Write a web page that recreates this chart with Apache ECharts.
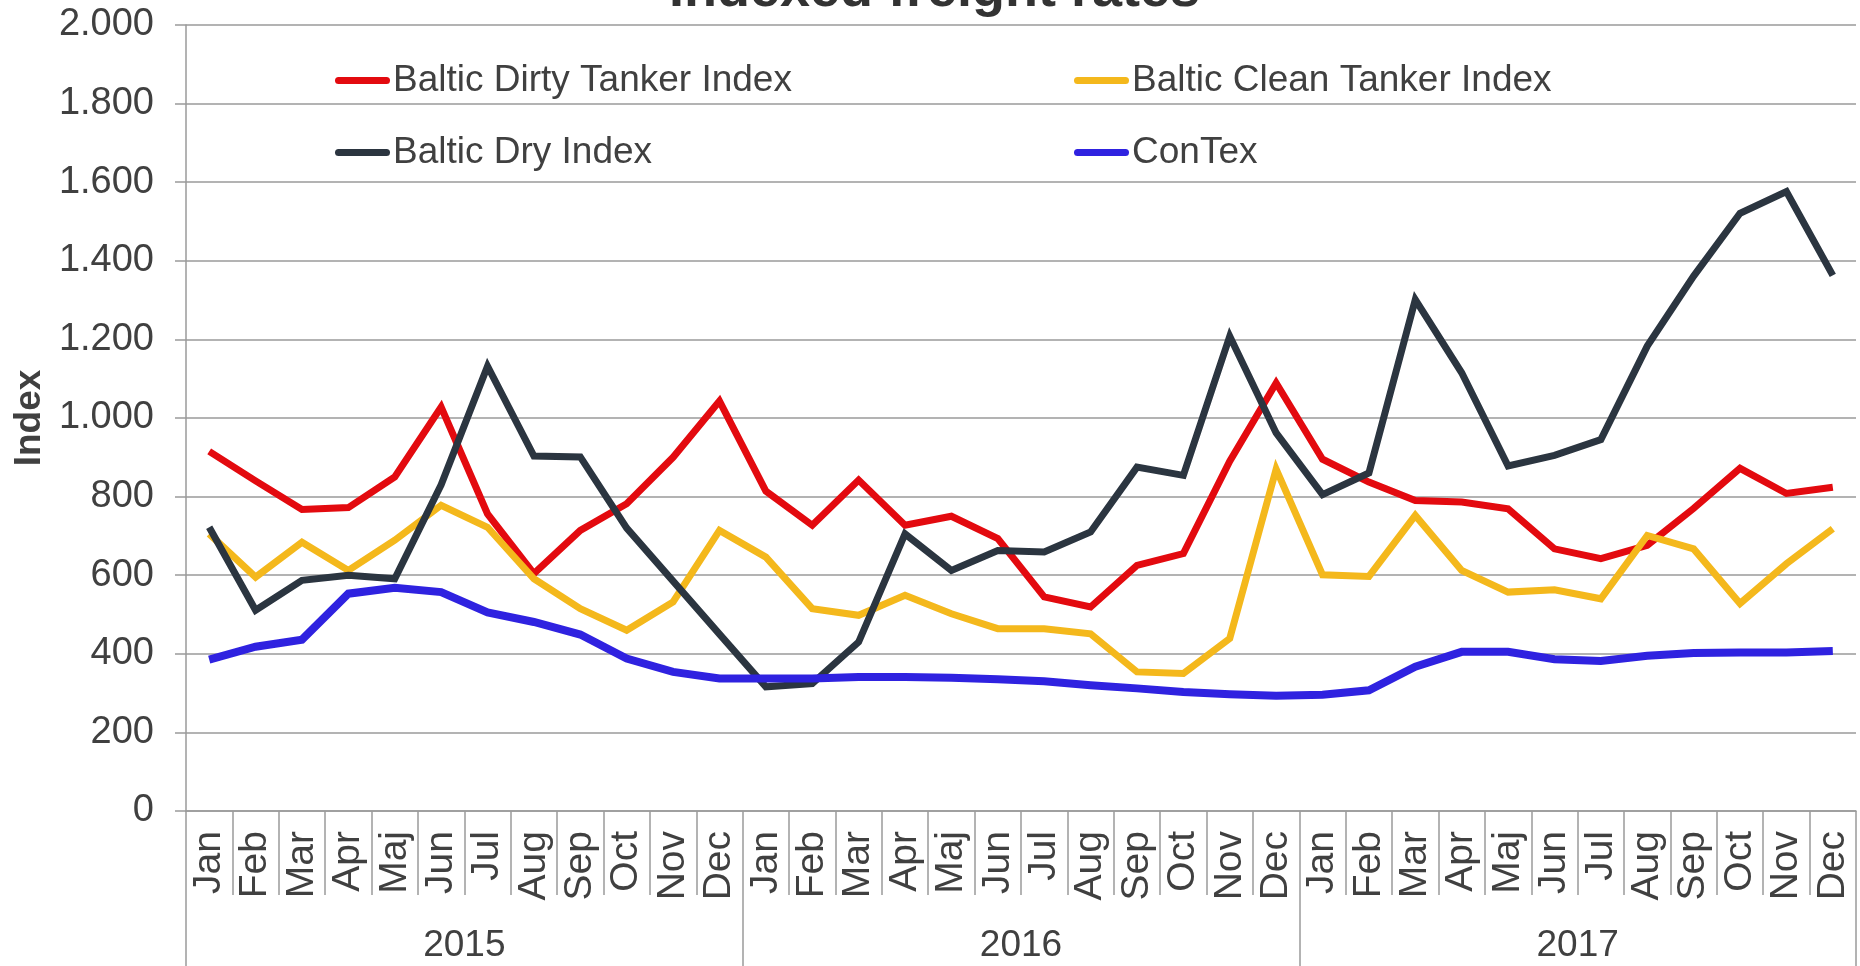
<!DOCTYPE html>
<html>
<head>
<meta charset="utf-8">
<script src="https://cdn.jsdelivr.net/npm/echarts@6/dist/echarts.min.js"></script>
<style>
  html, body { margin: 0; padding: 0; background: #fff; }
  #chart { width: 1860px; height: 966px; }
</style>
</head>
<body>
<div id="chart"></div>
<script>
// categories
const months = ['Jan', 'Feb', 'Mar', 'Apr', 'Maj', 'Jun', 'Jul', 'Aug', 'Sep', 'Oct', 'Nov', 'Dec']
const years = ['2015', '2016', '2017']
const monthLabels = years.flatMap(() => months)

// series values (indexed)
const bdti = [
  915, 840, 767, 772, 850, 1028, 756, 604, 714, 782, 900, 1043,
  814, 727, 842, 727, 750, 693, 545, 519, 625, 655, 890, 1089,
  895, 837, 790, 786, 769, 667, 642, 676, 770, 872, 808, 824
]
const bcti = [
  705, 595, 684, 612, 689, 778, 722, 591, 515, 460, 532, 714,
  646, 515, 498, 549, 502, 464, 464, 451, 354, 350, 439, 870,
  601, 597, 752, 612, 557, 563, 540, 701, 667, 528, 629, 718
]
const bdi = [
  722, 511, 587, 600, 591, 830, 1132, 903, 901, 720, 585, 450,
  316, 324, 430, 705, 612, 663, 659, 710, 875, 854, 1208, 962,
  805, 860, 1301, 1115, 878, 905, 945, 1183, 1361, 1521, 1576, 1363
]
const contex = [
  385, 418, 436, 553, 568, 557, 505, 481, 449, 388, 354, 337,
  337, 337, 341, 341, 339, 335, 330, 320, 312, 303, 297, 293,
  296, 307, 367, 405, 405, 386, 382, 395, 402, 403, 403, 407
]

const FONT = "'Liberation Sans', Arial, sans-serif"
const TXT = '#404040'
const GRID_COLOR = '#9a9a9a'
const capsule = 'path://M3.5,0 H51.5 A3.5,3.5 0 0 1 51.5,7 H3.5 A3.5,3.5 0 0 1 3.5,0 Z'

function legendAt (name, left, top) {
  return {
    data: [name],
    left: left,
    top: top,
    icon: capsule,
    itemWidth: 55,
    itemHeight: 8,
    selectedMode: false,
    textStyle: { fontFamily: FONT, fontSize: 37, color: TXT, padding: [0, 0, 0, -2] }
  }
}

function lineSeries (name, data, color, width) {
  return {
    name: name,
    type: 'line',
    data: data,
    xAxisIndex: 0,
    showSymbol: false,
    symbol: 'none',
    color: color,
    lineStyle: { color: color, width: width, join: 'miter' },
    emphasis: { disabled: true }
  }
}

const chart = echarts.init(document.getElementById('chart'))
chart.setOption({
  animation: false,
  backgroundColor: '#fff',
  title: {
    text: 'Indexed freight rates',
    left: 664,
    top: -41,
    textStyle: { fontFamily: FONT, fontSize: 54, fontWeight: 'bold', color: '#333' }
  },
  legend: [
    legendAt('Baltic Dirty Tanker Index', 330, 57),
    legendAt('Baltic Clean Tanker Index', 1069, 57),
    legendAt('Baltic Dry Index', 330, 129),
    legendAt('ConTex', 1069, 129)
  ],
  grid: { left: 186, right: 4, top: 25, bottom: 155, outerBoundsMode: 'none', containLabel: false },
  xAxis: [
    {
      type: 'category',
      data: monthLabels,
      boundaryGap: true,
      axisLine: { show: true, lineStyle: { color: GRID_COLOR, width: 1.5 } },
      axisTick: { show: true, interval: 0, length: 84, lineStyle: { color: GRID_COLOR, width: 1.5 } },
      axisLabel: {
        interval: 0,
        rotate: 90,
        margin: 20,
        fontFamily: FONT,
        fontSize: 39,
        color: TXT
      },
      splitLine: { show: false }
    },
    {
      type: 'category',
      data: years,
      position: 'bottom',
      boundaryGap: true,
      axisLine: { show: false },
      axisTick: { show: true, interval: 0, length: 160, lineStyle: { color: GRID_COLOR, width: 1.5 } },
      axisLabel: {
        interval: 0,
        margin: 116,
        fontFamily: FONT,
        fontSize: 37,
        color: TXT
      },
      splitLine: { show: false }
    }
  ],
  yAxis: {
    type: 'value',
    min: 0,
    max: 2000,
    interval: 200,
    name: 'Index',
    nameLocation: 'middle',
    nameGap: 138,
    nameRotate: 90,
    nameTextStyle: { fontFamily: FONT, fontSize: 37, fontWeight: 'bold', color: TXT },
    axisLine: { show: true, lineStyle: { color: GRID_COLOR, width: 1.5 } },
    axisTick: { show: true, length: 11, lineStyle: { color: GRID_COLOR, width: 1.5 } },
    axisLabel: {
      margin: 32,
      fontFamily: FONT,
      fontSize: 38,
      color: TXT,
      formatter: (v) => String(v).replace(/\B(?=(\d{3})+(?!\d))/g, '.')
    },
    splitLine: { show: true, lineStyle: { color: GRID_COLOR, width: 1.5 } }
  },
  series: [
    lineSeries('Baltic Dirty Tanker Index', bdti, '#e30a0f', 7),
    lineSeries('Baltic Clean Tanker Index', bcti, '#f4b81c', 7),
    lineSeries('Baltic Dry Index', bdi, '#2b3540', 7),
    lineSeries('ConTex', contex, '#2f22e0', 8)
  ]
})
</script>
</body>
</html>
